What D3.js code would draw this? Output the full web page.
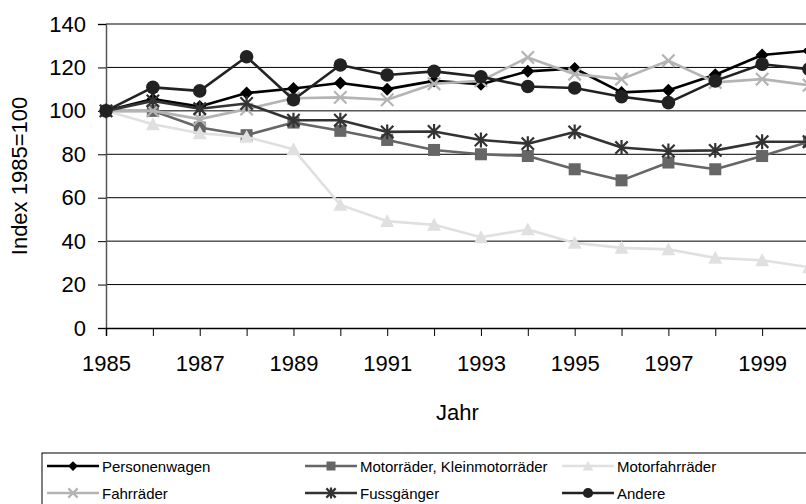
<!DOCTYPE html>
<html>
<head>
<meta charset="utf-8">
<script src="https://cdn.jsdelivr.net/npm/d3@7"></script>
<style>
  html, body { margin: 0; padding: 0; background: #fff; }
  svg { display: block; font-family: "Liberation Sans", Arial, sans-serif; }
</style>
</head>
<body>
<svg id="chart" width="806" height="504"></svg>
<script>
// ---- Data ----
const years = [1985, 1986, 1987, 1988, 1989, 1990, 1991, 1992, 1993, 1994, 1995, 1996, 1997, 1998, 1999, 2000];
const personenwagen   = [100, 105.4, 102, 108.2, 110.3, 112.8, 110, 113.8, 112.3, 118.2, 119.5, 108.5, 109.5, 116.6, 125.7, 127.7];
const motorraeder     = [100, 100, 92.3, 88.8, 94.6, 90.8, 86.6, 82, 80, 79.2, 73.1, 68, 76.2, 73.1, 79.2, 85.8];
const motorfahrraeder = [100, 93.8, 89.7, 88, 82.3, 56.7, 49.2, 47.5, 41.8, 45.4, 39.2, 36.9, 36.2, 32.3, 31.2, 28];
const fahrraeder      = [100, 100, 96.2, 100.8, 105.8, 106.2, 105.1, 112.5, 113.8, 124.6, 116.9, 114.6, 123.1, 113.1, 114.6, 111.8];
const fussgaenger     = [100, 104.6, 101, 103.4, 95.7, 95.7, 90.3, 90.5, 86.6, 84.9, 90.3, 83.1, 81.5, 81.8, 85.8, 85.8];
const andere          = [100, 110.8, 109.2, 124.9, 105.1, 121.1, 116.5, 118.2, 115.7, 111.2, 110.5, 106.5, 103.8, 113.8, 121.5, 119.2];
const seriesNames = ["Personenwagen", "Motorräder, Kleinmotorräder", "Motorfahrräder", "Fahrräder", "Fussgänger", "Andere"];
const yTicks = [0, 20, 40, 60, 80, 100, 120, 140];
const xLabelYears = [1985, 1987, 1989, 1991, 1993, 1995, 1997, 1999];
const yTitle = "Index 1985=100";
const xTitle = "Jahr";

// ---- Styles ----
const styles = [
  { color: "#000000", marker: "diamond" },
  { color: "#666666", marker: "square" },
  { color: "#e0e0e0", marker: "triangle" },
  { color: "#b4b4b4", marker: "x" },
  { color: "#333333", marker: "star" },
  { color: "#222222", marker: "circle" }
];
const seriesData = [personenwagen, motorraeder, motorfahrraeder, fahrraeder, fussgaenger, andere];

const svg = d3.select("#chart");
const pLeft = 106, pRight = 809, pTop = 24, pBottom = 328;
const x = d3.scaleLinear().domain([1985, 2000]).range([pLeft, pRight]);
const y = d3.scaleLinear().domain([0, 140]).range([pBottom, pTop]);

// gridlines
svg.append("g").selectAll("line").data(yTicks.filter(d => d > 0)).join("line")
  .attr("x1", pLeft).attr("x2", 830)
  .attr("y1", d => y(d)).attr("y2", d => y(d))
  .attr("stroke", "#000").attr("stroke-width", 1);

// y axis
const yAxis = svg.append("g").attr("transform", `translate(${pLeft},0)`)
  .call(d3.axisLeft(y).tickValues(yTicks).tickSize(8).tickPadding(12));
yAxis.select(".domain").attr("stroke", "#555").attr("stroke-width", 1.5);
yAxis.selectAll(".tick line").attr("stroke", "#000");
yAxis.selectAll("text").attr("font-size", "22px").attr("fill", "#000").attr("font-family", "Liberation Sans, Arial, sans-serif");

// x axis
const xAxis = svg.append("g").attr("transform", `translate(0,${pBottom})`)
  .call(d3.axisBottom(x).tickValues(years).tickSize(8).tickPadding(19)
    .tickFormat(d => xLabelYears.includes(d) ? String(d) : ""));
xAxis.select(".domain").attr("stroke", "#000").attr("stroke-width", 1.5);
xAxis.selectAll(".tick line").attr("stroke", "#000");
xAxis.selectAll("text").attr("font-size", "22px").attr("fill", "#000").attr("font-family", "Liberation Sans, Arial, sans-serif");

// axis titles
svg.append("text").attr("transform", `translate(27,${(pTop + pBottom) / 2}) rotate(-90)`)
  .attr("text-anchor", "middle").attr("font-size", "22px").text(yTitle);
svg.append("text").attr("x", (pLeft + pRight) / 2).attr("y", 420)
  .attr("text-anchor", "middle").attr("font-size", "22px").text(xTitle);

// marker drawing
function drawMarker(g, type, color, s) {
  if (type === "diamond") {
    g.append("path").attr("d", `M0,${-s}L${s},0L0,${s}L${-s},0Z`).attr("fill", color);
  } else if (type === "square") {
    g.append("rect").attr("x", -s).attr("y", -s).attr("width", 2 * s).attr("height", 2 * s).attr("fill", color);
  } else if (type === "triangle") {
    g.append("path").attr("d", `M0,${-s}L${s},${s * 0.85}L${-s},${s * 0.85}Z`).attr("fill", color);
  } else if (type === "circle") {
    g.append("circle").attr("r", s).attr("fill", color);
  } else if (type === "x") {
    g.append("path").attr("d", `M${-s},${-s}L${s},${s}M${-s},${s}L${s},${-s}`)
      .attr("stroke", color).attr("stroke-width", 2.2).attr("fill", "none");
  } else if (type === "star") {
    g.append("path").attr("d", `M${-s},${-s}L${s},${s}M${-s},${s}L${s},${-s}M0,${-s * 1.2}L0,${s * 1.2}`)
      .attr("stroke", color).attr("stroke-width", 2.2).attr("fill", "none");
  }
}
const markerSize = { diamond: 6.5, square: 6, triangle: 7, circle: 6.8, x: 6.2, star: 6.2 };

// series
const line = d3.line().x((d, i) => x(years[i])).y(d => y(d));
seriesData.forEach((vals, si) => {
  const st = styles[si];
  const g = svg.append("g");
  g.append("path").datum(vals).attr("d", line)
    .attr("fill", "none").attr("stroke", st.color).attr("stroke-width", 2.6).attr("stroke-linejoin", "round");
  vals.forEach((v, i) => {
    const mg = g.append("g").attr("transform", `translate(${x(years[i])},${y(v)})`);
    drawMarker(mg, st.marker, st.color, markerSize[st.marker]);
  });
});

// legend
const legend = svg.append("g");
legend.append("rect").attr("x", 42).attr("y", 453).attr("width", 820).attr("height", 80)
  .attr("fill", "#fff").attr("stroke", "#000").attr("stroke-width", 1);
const colX = [47, 305, 562];
const rowY = [466, 493];
const lineLen = 52;
seriesNames.forEach((name, i) => {
  const cx = colX[i % 3], cy = rowY[Math.floor(i / 3)];
  const st = styles[i];
  const lg = legend.append("g").attr("transform", `translate(${cx},${cy})`);
  lg.append("line").attr("x1", 0).attr("x2", lineLen).attr("y1", 0).attr("y2", 0)
    .attr("stroke", st.color).attr("stroke-width", 2.4);
  const mg = lg.append("g").attr("transform", `translate(${lineLen / 2},0)`);
  drawMarker(mg, st.marker, st.color, markerSize[st.marker] * 0.75);
  lg.append("text").attr("x", lineLen + 3).attr("y", 5.5)
    .attr("font-size", "15px").attr("fill", "#000").text(name);
});
</script>
</body>
</html>
